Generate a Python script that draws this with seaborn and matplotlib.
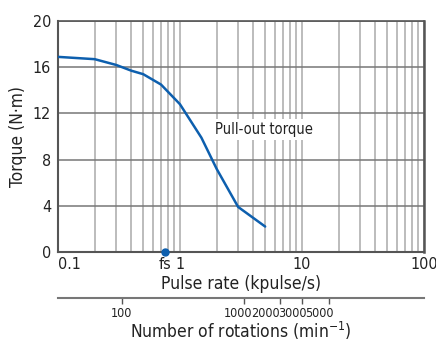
import matplotlib
matplotlib.use("Agg")
import matplotlib.pyplot as plt
import matplotlib.transforms as mtransforms
import seaborn as sns
import numpy as np
import pandas as pd
from matplotlib.ticker import FixedLocator, LogLocator, NullFormatter, FixedFormatter

# data
pulse_rate = [0.1, 0.2, 0.3, 0.4, 0.5, 0.7, 1.0, 1.5, 2.0, 3.0, 5.0]
torque = [16.9, 16.7, 16.2, 15.7, 15.4, 14.5, 12.8, 9.9, 7.2, 3.9, 2.2]
fs_rate = 0.75
x_ticks = [0.1, 1, 10, 100]
x_tick_labels = ["0.1", "1", "10", "100"]
y_ticks = [0, 4, 8, 12, 16, 20]
rpm_ticks = [100, 1000, 2000, 3000, 5000]
rpm_tick_labels = ["100", "1000", "2000", "3000", "5000"]
rpm_per_kpulse = 300.0

sns.set_theme(style="white")
plt.rcParams['font.family'] = ['DejaVu Sans']
plt.rcParams['font.stretch'] = 'condensed'

fig = plt.figure(figsize=(4.36, 3.4), dpi=100)
ax = fig.add_axes([0.133, 0.259, 0.839, 0.679])

df = pd.DataFrame({"rate": pulse_rate, "torque": torque})
sns.lineplot(data=df, x="rate", y="torque", ax=ax, color="#0d5fae", lw=1.8, zorder=5)

ax.set_xscale("log")
ax.set_xlim(0.1, 100)
ax.set_ylim(0, 20)

ax.xaxis.set_major_locator(FixedLocator(x_ticks))
ax.xaxis.set_major_formatter(FixedFormatter(x_tick_labels))
ax.xaxis.set_minor_locator(LogLocator(base=10, subs=np.arange(2, 10)))
ax.xaxis.set_minor_formatter(NullFormatter())
ax.set_yticks(y_ticks)

ax.grid(True, axis="x", which="both", color="#aaaaaa", lw=1.1)
ax.grid(True, axis="y", which="major", color="#777777", lw=1.1)
ax.set_axisbelow(True)

for s in ax.spines.values():
    s.set_color("#555555")
    s.set_linewidth(1.2)
ax.spines["left"].set_linewidth(1.5)
ax.spines["bottom"].set_linewidth(1.5)
ax.spines["right"].set_linewidth(1.8)

fs_t = 11.5
ax.tick_params(axis="both", which="both", length=0, labelsize=fs_t, colors="#222222")
ax.tick_params(axis="y", pad=5)
ax.tick_params(axis="x", pad=4)
ax.get_xticklabels()[0].set_horizontalalignment("left")

ax.set_xlabel("Pulse rate (kpulse/s)", fontsize=12.5, color="#222222", labelpad=2)
ax.set_ylabel("Torque (N·m)", fontsize=12.5, color="#222222", labelpad=4)

# fs marker
ax.plot([fs_rate], [0], "o", color="#0d5fae", ms=5, clip_on=False, zorder=6)
ax.text(fs_rate, -0.45, "fs", ha="center", va="top", fontsize=fs_t, color="#222222")

ax.text(4.9, 10.6, "Pull-out torque", ha="center", va="center", fontsize=10.5, color="#222222",
        bbox=dict(facecolor="white", edgecolor="none", pad=2), zorder=7)

sec = ax.secondary_xaxis(-0.199, functions=(lambda x: x * rpm_per_kpulse,
                                           lambda r: r / rpm_per_kpulse))
sec.xaxis.set_major_locator(FixedLocator(rpm_ticks))
sec.xaxis.set_major_formatter(NullFormatter())
sec.xaxis.set_minor_locator(FixedLocator([]))
sec.spines["bottom"].set_color("#777777")
sec.spines["bottom"].set_linewidth(1.5)
sec.tick_params(axis="x", which="major", length=4, width=1, color="#555555")
sec.set_xlabel("Number of rotations (min$^{\\mathregular{-1}}$)", fontsize=12.5,
               color="#222222", labelpad=8)

# secondary tick labels, nudged left as in the reference (points)
sec_fs = 9
label_shift_pt = [0, -3.8, -10.8, -6.8, -6.9]
blend = mtransforms.blended_transform_factory(ax.transData, ax.transAxes)
for r, lab, dx in zip(rpm_ticks, rpm_tick_labels, label_shift_pt):
    tr = blend + mtransforms.ScaledTranslation(dx / 72, 0, fig.dpi_scale_trans)
    ax.text(r / rpm_per_kpulse, -0.266, lab, transform=tr, ha="center", va="center",
            fontsize=sec_fs, color="#222222", clip_on=False)

fig.savefig("out.png", dpi=100)
